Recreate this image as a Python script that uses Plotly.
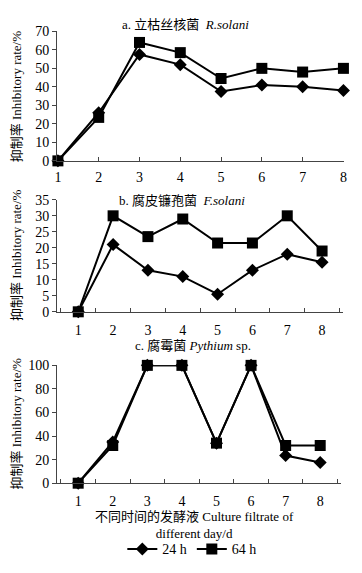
import plotly.graph_objects as go

days = [1, 2, 3, 4, 5, 6, 7, 8]
day_labels = [str(d) for d in days]

# Panel a: R. solani
a_24h = [0, 26, 57.5, 52, 37.5, 41, 40, 38]
a_64h = [0, 23.5, 64, 58.5, 44.5, 50, 48, 50]
# Panel b: F. solani
b_24h = [0, 21, 13, 11, 5.5, 13, 18, 15.5]
b_64h = [0, 30, 23.5, 29, 21.5, 21.5, 30, 19]
# Panel c: Pythium sp.
c_24h = [0, 35, 100, 100, 34, 100, 23.5, 17.5]
c_64h = [0, 32, 100, 100, 34, 100, 32, 32]

series_names = ["24 h", "64 h"]
titles = ["a. 立枯丝核菌  <i>R.solani</i>",
          "b. 腐皮镰孢菌  <i>F.solani</i>",
          "c. 腐霉菌 <i>Pythium</i> sp."]
y_title = "抑制率 Inhibitory rate/%"
x_title = "不同时间的发酵液 Culture filtrate of<br>different day/d"

W, H = 362, 573
FONT = "Liberation Serif, Times New Roman, Noto Sans CJK SC, serif"

def px_x(p):
    return p / W

def px_y(p):
    return 1 - p / H

fig = go.Figure()

panels = [
    ("x", "y", days, a_24h, a_64h),
    ("x2", "y2", day_labels, b_24h, b_64h),
    ("x3", "y3", day_labels, c_24h, c_64h),
]
for i, (xa, ya, xs, s24, s64) in enumerate(panels):
    show = (i == 2)
    fig.add_trace(go.Scatter(
        x=xs, y=s24, xaxis=xa, yaxis=ya, name=series_names[0],
        mode="lines+markers", showlegend=show, cliponaxis=False,
        line=dict(color="black", width=2),
        marker=dict(symbol="diamond", size=10, color="black"),
        legendrank=1,
    ))
    fig.add_trace(go.Scatter(
        x=xs, y=s64, xaxis=xa, yaxis=ya, name=series_names[1],
        mode="lines+markers", showlegend=show, cliponaxis=False,
        line=dict(color="black", width=2),
        marker=dict(symbol="square", size=11, color="black"),
        legendrank=2,
    ))

axis_common = dict(showline=True, linecolor="#444", linewidth=1, showgrid=False,
                   zeroline=False, tickfont=dict(family=FONT, size=14, color="black"),
                   tickcolor="#444")

fig.update_layout(
    width=W, height=H,
    margin=dict(l=0, r=0, t=0, b=0),
    paper_bgcolor="white", plot_bgcolor="white",
    font=dict(family=FONT, color="black"),
    # Panel a
    xaxis=dict(domain=[px_x(55), px_x(347)], anchor="y", range=[0.98, 8.02],
               tickvals=days, ticks="inside", ticklen=4, ticklabelstandoff=3, **axis_common),
    yaxis=dict(domain=[px_y(158), px_y(25)], anchor="x", range=[0, 70], dtick=10,
               ticks="outside", ticklen=4, **axis_common),
    # Panel b
    xaxis2=dict(domain=[px_x(55), px_x(346)], anchor="y2", type="category",
                tickson="boundaries", ticks="inside", ticklen=4, ticklabelstandoff=5,
                **axis_common),
    yaxis2=dict(domain=[px_y(313), px_y(198)], anchor="x2", range=[0, 35], dtick=5,
                ticks="outside", ticklen=4, **axis_common),
    # Panel c
    xaxis3=dict(domain=[px_x(55), px_x(344)], anchor="y3", type="category",
                tickson="boundaries", ticks="inside", ticklen=4, ticklabelstandoff=5,
                **axis_common),
    yaxis3=dict(domain=[px_y(489), px_y(368)], anchor="x3", range=[0, 100], dtick=20,
                ticks="outside", ticklen=4, **axis_common),
    legend=dict(orientation="h", x=px_x(192), xanchor="center",
                y=px_y(557), yanchor="middle",
                font=dict(family=FONT, size=14, color="black"),
                bgcolor="rgba(0,0,0,0)", itemwidth=30, tracegroupgap=0),
)

# Panel titles
title_pos = [(186, 18), (182, 199), (193, 348)]
for t, (tx, ty) in zip(titles, title_pos):
    fig.add_annotation(text=t, x=px_x(tx), y=px_y(ty), xref="paper", yref="paper",
                       showarrow=False, xanchor="center", yanchor="middle",
                       font=dict(family=FONT, size=13, color="black"))

# Y-axis titles
for cy in [92, 255, 428]:
    fig.add_annotation(text=y_title, x=px_x(14), y=px_y(cy), xref="paper", yref="paper",
                       showarrow=False, textangle=-90, xanchor="center", yanchor="middle",
                       font=dict(family=FONT, size=13, color="black"))

# X-axis title (bottom panel)
fig.add_annotation(text=x_title, x=px_x(195), y=px_y(532), xref="paper", yref="paper",
                   showarrow=False, xanchor="center", yanchor="middle",
                   font=dict(family=FONT, size=13, color="black"))

fig.write_html("out.html", config={"displayModeBar": False},
               post_script="document.body.style.margin='0';document.body.style.overflow='hidden';")
